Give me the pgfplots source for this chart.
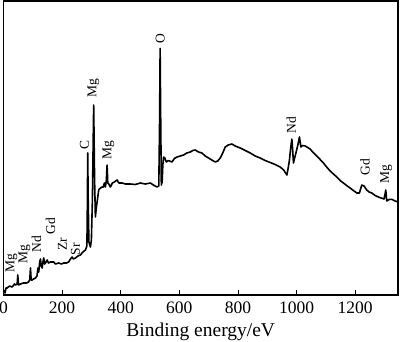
\documentclass[border=0pt]{standalone}
\usepackage{pgfplots}
\pgfplotsset{compat=1.18}
\usepackage{fontspec}
\setmainfont{Liberation Serif}
\begin{document}
\begin{tikzpicture}
\begin{axis}[
  at={(0,0)}, anchor=south west,
  scale only axis, width=394.5pt, height=294pt,
  xmin=0, xmax=1346, ymin=0, ymax=294,
  xtick={0,200,400,600,800,1000,1200},
  ytick=\empty,
  xtick pos=bottom, tick align=inside,
  major tick length=5pt,
  axis line style={line width=1.1pt},
  every tick/.style={line width=0.9pt, black},
  tick label style={font=\fontsize{17.5}{20}\selectfont},
  xticklabel style={yshift=-3pt},
  /pgf/number format/assume math mode=true,
  /pgf/number format/1000 sep={},
  xlabel={Binding energy/eV},
  xlabel style={font=\fontsize{19.5}{22}\selectfont, yshift=-2.5pt},
  clip=false,
]
\addplot[black, line width=1.6pt, line join=round] coordinates {
(1.7,5) (5.1,2) (8.5,7) (12.6,7) (20.4,9) (29.6,8) (37.5,11) (40.9,10) (46.7,11)
(48.7,20) (51.1,10) (57.9,11) (68.2,12) (78.4,12) (85.2,13) (89.6,15) (92.0,27)
(94.4,15) (97.8,15) (102.2,16) (109.1,17) (114.2,19) (117.6,27) (120.3,23) (123.4,33)
(126.1,36) (128.8,29) (131.9,27) (134.6,33) (137.3,37) (140.4,31) (143.1,32) (148.9,35)
(153.4,32) (160.2,33) (171.4,33) (177.2,31) (188.5,32) (197.7,31) (205.5,32) (214.7,32)
(222.5,33) (228.3,36) (234.1,38) (238.6,36) (245.4,37) (253.9,39) (262.4,40) (270.9,43)
(279.5,45) (284.6,49) (286.3,95) (287.3,142) (289.0,95) (291.4,53) (296.5,48) (299.9,55)
(303.3,95) (307.7,190) (310.8,115) (313.5,78) (316.9,88) (320.4,95) (324.8,105)
(330.6,107) (336.4,108) (340.8,108) (344.2,112) (347.6,108) (351.0,115) (353.4,130)
(355.8,112) (359.5,111) (364.7,108) (371.5,112) (378.3,113) (387.5,115) (393.6,112)
(404.5,112) (415.8,111) (432.8,111) (449.9,110.5) (466.9,112) (483.9,111) (501.0,112)
(511.2,110) (523.8,108) (529.9,109) (532.6,175) (534.4,246.7) (536.4,175) (538.5,110)
(541.2,113) (543.6,130) (546.3,138) (550.4,137) (555.5,133) (562.3,134.5) (574.9,133)
(582.8,136.5) (592.0,138) (603.2,139) (614.5,140) (625.4,142) (637.3,143) (645.8,144.5)
(654.3,145) (665.6,143) (677.2,142) (688.4,139) (699.7,137) (710.6,135) (722.5,133)
(731.0,134) (739.5,137) (748.0,142) (756.6,148) (766.8,150) (779.4,151) (790.6,149)
(807.7,147) (824.7,144.5) (841.8,142) (858.8,139) (875.9,137) (892.9,134.5) (909.9,132.5)
(927.0,130.5) (944.0,128) (955.9,125) (966.9,120) (971.3,127) (975.7,135) (979.8,147)
(983.9,156) (986.6,145) (989.3,132) (993.4,137) (998.5,143) (1004.3,150) (1009.8,158)
(1014.6,148) (1020.7,149.5) (1029.2,149) (1037.8,147.5) (1046.3,146) (1056.5,142.5)
(1069.1,139) (1080.3,135.5) (1091.6,132) (1102.5,128) (1114.4,124) (1125.7,121)
(1137.3,118) (1148.5,114.5) (1159.8,112) (1170.7,109.5) (1182.6,107) (1193.8,104.5)
(1205.4,102) (1214.3,102) (1218.4,106) (1222.5,110) (1230.3,109) (1239.5,105)
(1247.3,103) (1256.5,102) (1267.8,99.5) (1279.0,98) (1288.2,97) (1298.4,96)
(1301.9,101) (1304.2,105) (1306.6,97) (1307.7,94) (1315.5,95.5) (1324.7,95.7)
(1332.5,94.5) (1341.7,93.3) (1346,94)
};
\begin{scope}[every node/.style={rotate=90, anchor=center, inner sep=0pt, font=\fontsize{13.5}{15}\selectfont}]
\node at (axis cs:27.3,32) {Mg};
\node at (axis cs:71.6,41) {Mg};
\node at (axis cs:112.5,51) {Nd};
\node at (axis cs:160.2,69) {Gd};
\node at (axis cs:201.1,51) {Zr};
\node at (axis cs:245.4,46) {Sr};
\node at (axis cs:276,150) {C};
\node at (axis cs:306.7,207) {Mg};
\node at (axis cs:357.8,145) {Mg};
\node at (axis cs:535,256) {O};
\node at (axis cs:981.5,170) {Nd};
\node at (axis cs:1233.7,128) {Gd};
\node at (axis cs:1305.3,121) {Mg};
\end{scope}
\end{axis}
\pgfresetboundingbox
\path (-3.5pt,-46pt) rectangle (396.5pt,295pt);
\end{tikzpicture}
\end{document}
